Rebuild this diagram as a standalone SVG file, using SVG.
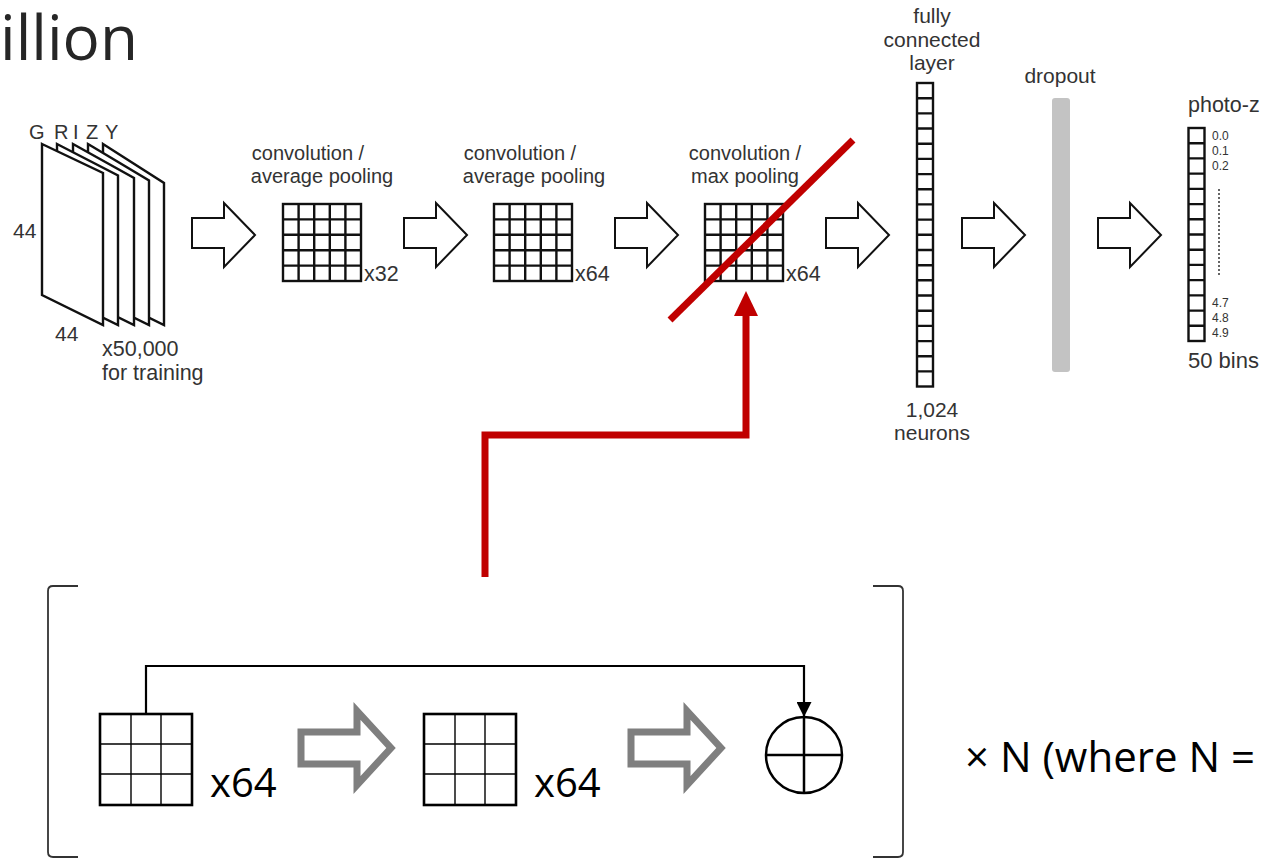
<svg xmlns="http://www.w3.org/2000/svg" xmlns:xlink="http://www.w3.org/1999/xlink" width="1264" height="859" viewBox="0 0 1264 859">
<style>
.t{font-family:"Liberation Sans",Arial,sans-serif;fill:#333;}
.c{text-anchor:middle;}
.big{font-family:"Open Sans","Noto Sans",sans-serif;fill:#000;}
.grid{fill:#fff;stroke:#111;stroke-width:2.4;}
.arrow{fill:#fff;stroke:#111;stroke-width:2;stroke-linejoin:miter;}
.garrow{fill:none;stroke:#7f7f7f;stroke-width:7;stroke-linejoin:miter;}
.col{fill:#fff;stroke:#111;stroke-width:2.4;}
.plane{fill:#fff;stroke:#111;stroke-width:2.4;stroke-linejoin:miter;}
.red{fill:none;stroke:#c00000;stroke-width:7;}
.g3o{fill:#fff;stroke:#000;stroke-width:2.6;}
.g3i{stroke:#000;stroke-width:1.4;}
.bracket{fill:none;stroke:#333;stroke-width:1.8;}
</style>
<defs>
<g id="g5">
<rect class="grid" x="0" y="0" width="78" height="77"/>
<path d="M15.6,0V77M31.2,0V77M46.8,0V77M62.4,0V77M0,15.4H78M0,30.8H78M0,46.2H78M0,61.6H78" stroke="#111" stroke-width="2.4"/>
</g>
<polygon id="arr" class="arrow" points="0,218 32,218 32,203 63,235 32,267 32,248 0,248"/>
<polygon id="garr" class="garrow" points="4,732 60,732 60,711 94,748 60,785 60,764 4,764"/>
<g id="g3">
<rect class="g3o" x="0" y="0" width="92" height="91"/>
<path class="g3i" d="M31,0V91M61,0V91M0,30H92M0,60H92"/>
</g>
<marker id="mk" viewBox="0 0 10 10" refX="10" refY="5" markerWidth="15" markerHeight="15" markerUnits="userSpaceOnUse" orient="auto">
<path d="M0,0L10,5L0,10Z" fill="#000"/>
</marker>
</defs>
<rect width="1264" height="859" fill="#fff"/>

<text class="big" x="0" y="60" font-size="62" style="fill:#262626">illion</text>

<g id="input">
<polygon class="plane" points="103,144 164,183 164,325 103,295"/>
<polygon class="plane" points="88,144 149,180.5 149,325 88,295"/>
<polygon class="plane" points="73,144 134,178 134,325 73,295"/>
<polygon class="plane" points="57,144 118,175.5 118,325 57,295"/>
<polygon class="plane" points="42,144 103,173 103,325 42,295"/>
<text class="t" font-size="20" x="29 54 73 86 105" y="139">GRIZY</text>
<text class="t" font-size="21" x="13" y="238">44</text>
<text class="t" font-size="21" x="55" y="341">44</text>
<text class="t" font-size="21.5" x="102" y="356">x50,000</text>
<text class="t" font-size="21.5" x="102" y="380">for training</text>
</g>

<g id="conv1">
<text class="t c" font-size="20" x="308" y="160">convolution /</text>
<text class="t c" font-size="20" x="322" y="183">average pooling</text>
<use xlink:href="#g5" x="283" y="204"/>
<text class="t" font-size="21.5" x="364" y="281">x32</text>
</g>
<g id="conv2">
<text class="t c" font-size="20" x="520" y="160">convolution /</text>
<text class="t c" font-size="20" x="534" y="183">average pooling</text>
<use xlink:href="#g5" x="494" y="204"/>
<text class="t" font-size="21.5" x="575" y="281">x64</text>
</g>
<g id="conv3">
<text class="t c" font-size="20" x="745" y="160">convolution /</text>
<text class="t c" font-size="20" x="745" y="183">max pooling</text>
<use xlink:href="#g5" x="705" y="204"/>
<text class="t" font-size="21.5" x="786" y="281">x64</text>
</g>

<g id="fc">
<text class="t c" font-size="21" x="932" y="23">fully</text>
<text class="t c" font-size="21" x="932" y="47">connected</text>
<text class="t c" font-size="21" x="932" y="70">layer</text>
<rect class="col" x="917" y="83" width="16" height="303.5"/>
<path stroke="#111" stroke-width="2.4" d="M917,98.2H933M917,113.4H933M917,128.5H933M917,143.7H933M917,158.9H933M917,174.1H933M917,189.3H933M917,204.4H933M917,219.6H933M917,234.8H933M917,250H933M917,265.2H933M917,280.3H933M917,295.5H933M917,310.7H933M917,325.9H933M917,341.1H933M917,356.2H933M917,371.4H933"/>
<text class="t c" font-size="21" x="932" y="417">1,024</text>
<text class="t c" font-size="21" x="932" y="440">neurons</text>
</g>

<g id="dropout">
<text class="t c" font-size="21" x="1060" y="83">dropout</text>
<rect x="1052" y="98" width="18" height="274" rx="3" fill="#c3c3c3"/>
</g>

<g id="photoz">
<text class="t" font-size="21.5" x="1188" y="112">photo-z</text>
<rect class="col" x="1188.5" y="128" width="16" height="213"/>
<path stroke="#111" stroke-width="2.4" d="M1188.5,143.2H1204.5M1188.5,158.4H1204.5M1188.5,173.6H1204.5M1188.5,188.9H1204.5M1188.5,204.1H1204.5M1188.5,219.3H1204.5M1188.5,234.5H1204.5M1188.5,249.7H1204.5M1188.5,264.9H1204.5M1188.5,280.1H1204.5M1188.5,295.4H1204.5M1188.5,310.6H1204.5M1188.5,325.8H1204.5"/>
<g class="t" font-size="12">
<text x="1212" y="140">0.0</text>
<text x="1212" y="155">0.1</text>
<text x="1212" y="170">0.2</text>
<text x="1212" y="307">4.7</text>
<text x="1212" y="322">4.8</text>
<text x="1212" y="337">4.9</text>
</g>
<line x1="1219" y1="189" x2="1219" y2="277" stroke="#333" stroke-width="1.5" stroke-dasharray="2,2"/>
<text class="t" font-size="22" x="1188" y="368">50 bins</text>
</g>

<g id="connectors">
<use xlink:href="#arr" x="192"/>
<use xlink:href="#arr" x="404"/>
<use xlink:href="#arr" x="615"/>
<use xlink:href="#arr" x="826"/>
<use xlink:href="#arr" x="962"/>
<use xlink:href="#arr" x="1098"/>
<use xlink:href="#garr" x="297"/>
<use xlink:href="#garr" x="627"/>
<path d="M146,714V666H804V717" fill="none" stroke="#000" stroke-width="2.2" marker-end="url(#mk)"/>
<path class="red" d="M485,577V435H746V312"/>
<polygon points="734,316 758,316 746,291" fill="#c00000"/>
<line class="red" x1="670" y1="320" x2="853" y2="140"/>
</g>

<g id="resblock">
<path class="bracket" d="M78,586H53Q48,586 48,591V852Q48,857 53,857H78"/>
<path class="bracket" d="M873,586H898Q903,586 903,591V852Q903,857 898,857H873"/>
<use xlink:href="#g3" x="100" y="714"/>
<text class="big" font-size="40" x="210" y="797">x64</text>
<use xlink:href="#g3" x="424" y="714"/>
<text class="big" font-size="40" x="534" y="797">x64</text>
<g id="sum">
<circle cx="804" cy="755" r="38" fill="#fff" stroke="#000" stroke-width="2.5"/>
<path d="M766,755H842M804,717V793" stroke="#000" stroke-width="2.5"/>
</g>
</g>

<text class="big" font-size="42" x="965" y="772">× N (where N =</text>
</svg>
